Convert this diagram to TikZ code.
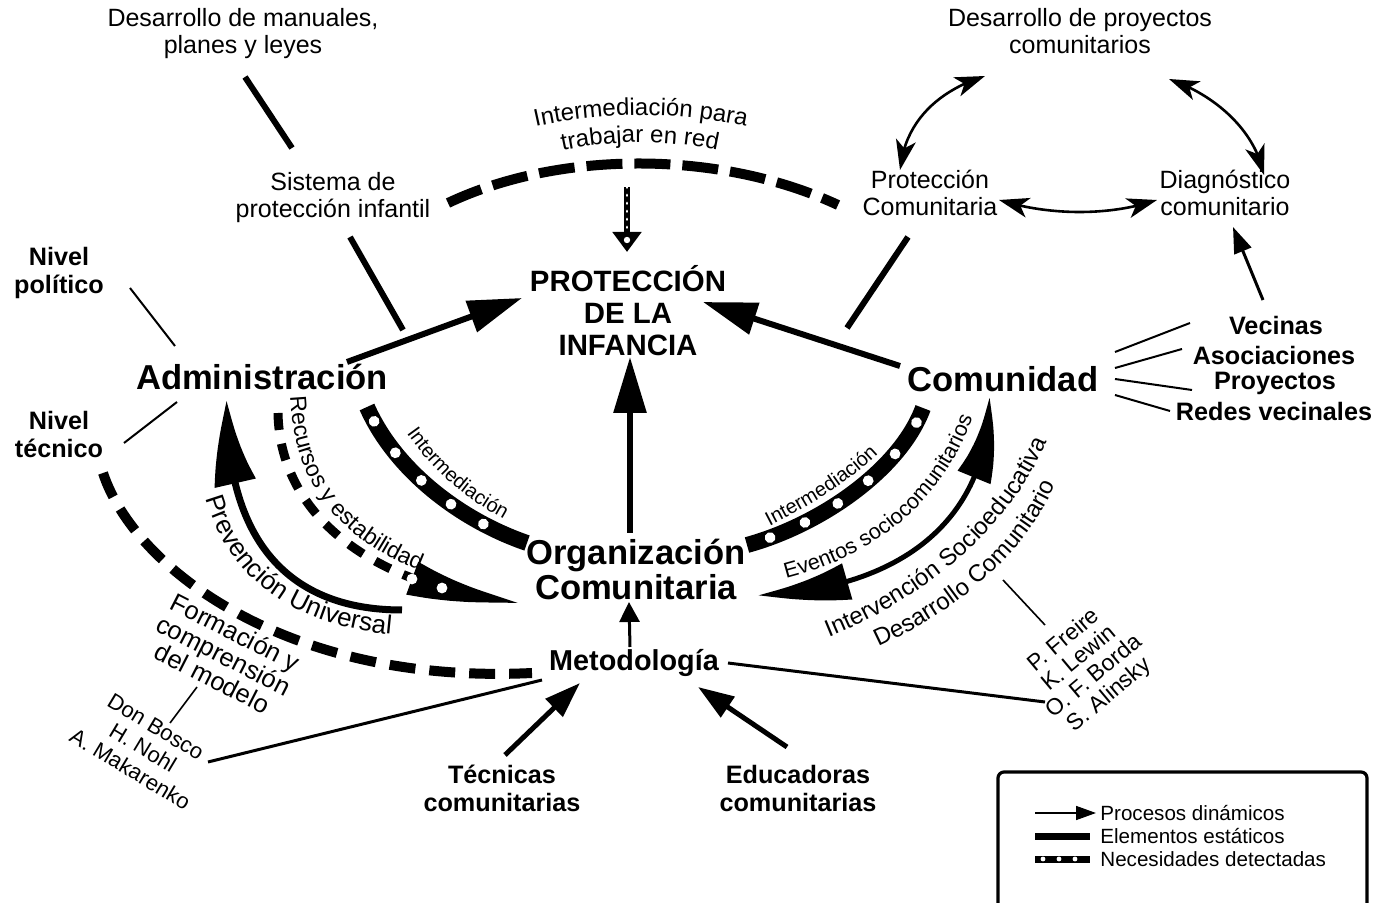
\documentclass[tikz,border=0pt]{standalone}
\usepackage{fontspec}
\setmainfont{Liberation Sans}
\usetikzlibrary{arrows.meta,bending,decorations.text,decorations.markings}

\tikzset{
    txt/.style={font=\fontsize{12.5}{13.5}\selectfont, align=center, inner sep=0pt},
    txtb/.style={font=\bfseries\fontsize{12.6}{14}\selectfont, align=center, inner sep=0pt},
    big/.style={font=\bfseries\fontsize{17.3}{17.5}\selectfont, align=center, inner sep=0pt},
    static/.style={line width=3pt},
    thinline/.style={line width=1pt},
    dyn/.style={line width=3pt, -{Triangle[length=27pt,width=16pt]}},
    dynsmall/.style={line width=2.5pt, -{Triangle[length=18pt,width=12pt]}},
    cyc/.style={line width=1.3pt, {Stealth[length=15pt,width=10pt,inset=4pt]}-{Stealth[length=15pt,width=10pt,inset=4pt]}},
    band/.style={line width=8pt, postaction={decorate, decoration={markings,
        mark=between positions 8pt and -6pt step 19pt with {\fill[white] (0,0) circle (2.7pt);}}}},
    bandsmall/.style={line width=3.5pt, postaction={decorate, decoration={markings,
        mark=between positions 4pt and -2pt step 8pt with {\fill[white] (0,0) circle (1.2pt);}}}},
    curved/.style 2 args={decorate, decoration={text along path, text align=center, text={|\fontsize{#1}{#1}\selectfont|#2}}},
}

\begin{document}
\begin{tikzpicture}[x=0.5pt, y=-0.5pt]
    \useasboundingbox (0,0) rectangle (1383,903);

    \node[txt] (manuales) at (243,34) {Desarrollo de manuales,\\planes y leyes};
    \node[txt] (proyectos) at (1080,31) {Desarrollo de proyectos\\comunitarios};
    \node[txt] (sistema) at (333,198) {Sistema de\\protección infantil};
    \node[txt] (pcom) at (930,193) {Protección\\Comunitaria};
    \node[txt] (diag) at (1225,193) {Diagnóstico\\comunitario};
    \node[font=\bfseries\fontsize{14.7}{16}\selectfont, align=center, inner sep=0pt] (prot) at (628,311) {PROTECCIÓN\\DE LA\\INFANCIA};
    \node[txtb] (npol) at (59,273) {Nivel\\político};
    \node[txtb] (ntec) at (59,434) {Nivel\\técnico};
    \node[big] (adm) at (262,377) {Administración};
    \node[big] (com) at (1003,379) {Comunidad};
    \node[big] (org) at (636,569) {Organización\\Comunitaria};
    \node[txtb, font=\bfseries\fontsize{14.4}{16}\selectfont] (met) at (634,663) {Metodología};
    \node[txtb] (tec) at (502,788) {Técnicas\\comunitarias};
    \node[txtb] (edu) at (798,788) {Educadoras\\comunitarias};
    \node[txtb] (vec) at (1276,325) {Vecinas};
    \node[txtb] (asoc) at (1274,355) {Asociaciones};
    \node[txtb] (proy) at (1275,383) {Proyectos};
    \node[txtb] (redes) at (1274,411) {Redes vecinales};
    \node[txt, font=\fontsize{12.8}{12.8}\selectfont, rotate=-27] (form) at (224,655) {Formación y\\comprensión\\del modelo};
    \node[txt, font=\fontsize{11}{12.4}\selectfont, rotate=-31] (bosco) at (143,748) {Don Bosco\\H. Nohl\\A. Makarenko};
    \node[txt, font=\fontsize{11.5}{11.8}\selectfont, rotate=40] (freire) at (1087,668) {P. Freire\\K. Lewin\\O. F. Borda\\S. Alinsky};

    \coordinate (man-s) at (245,77);   \coordinate (sis-n) at (292,148);
    \coordinate (sis-s) at (350,237);  \coordinate (adm-n) at (403,330);
    \coordinate (pc-s) at (908,237);   \coordinate (com-n) at (847,328);
    \coordinate (adm-ne) at (347,362); \coordinate (prot-w) at (522,298);
    \coordinate (com-nw) at (900,366); \coordinate (prot-e) at (703,302);
    \coordinate (org-n) at (630,533);  \coordinate (prot-s) at (630,357);
    \coordinate (met-n) at (630,647);  \coordinate (org-s) at (629,602);
    \coordinate (tec-n) at (505,755);  \coordinate (met-sw) at (580,683);
    \coordinate (edu-n) at (787,747);  \coordinate (met-se) at (698,687);
    \coordinate (vec-n) at (1263,300); \coordinate (diag-s) at (1233,227);

    \draw[static] (man-s) -- (sis-n);
    \draw[static] (sis-s) -- (adm-n);
    \draw[static] (pc-s) -- (com-n);

    \draw[dyn] (adm-ne) -- (prot-w);
    \draw[dyn] (com-nw) -- (prot-e);
    \draw[dyn, -{Triangle[length=28pt,width=16pt]}] (org-n) -- (prot-s);
    \draw[line width=1.5pt, -{Triangle[length=10pt,width=10pt]}] (met-n) -- (org-s);
    \draw[dynsmall] (tec-n) -- (met-sw);
    \draw[dynsmall] (edu-n) -- (met-se);
    \draw[line width=1.5pt, -{Triangle[length=13pt,width=9pt]}] (vec-n) -- (diag-s);

    \draw[thinline] (130,288) -- (175,346);
    \draw[thinline] (177,402) -- (124,443);
    \draw[thinline] (1115,352) -- (1190,323);
    \draw[thinline] (1115,368) -- (1182,349);
    \draw[thinline] (1115,379) -- (1192,390);
    \draw[thinline] (1115,395) -- (1170,411);
    \draw[line width=1.5pt] (728,663) -- (1045,702);
    \draw[line width=1.5pt] (542,680) -- (208,762);
    \draw[line width=0.8pt] (197,687) -- (170,723);
    \draw[line width=0.8pt] (1003,580) -- (1045,625);

    % red de proteccion
    \coordinate (sis-e) at (448,203); \coordinate (pc-w) at (838,205);
    \draw[line width=5pt, dash pattern=on 18pt off 6pt] (sis-e) .. controls (560,150) and (720,150) .. (pc-w);
    \path[curved={12}{Intermediación para}] (518,131) .. controls (594,110) and (686,110) .. (764,131);
    \path[curved={12}{trabajar en red}] (552,153) .. controls (608,139) and (672,139) .. (728,153);

    \coordinate (need-top) at (627,187); \coordinate (need-tip) at (627,252);
    \draw[line width=3pt, -{Triangle[length=10pt,width=14pt]}] (need-top) -- (need-tip);
    \draw[white, line width=1.4pt, line cap=round, dash pattern=on 0.3pt off 3.7pt] (need-top) -- (627,230);
    \fill[white] (627,240) circle (1.6pt);

    % ciclo comunitario
    \draw[cyc] (900,170) .. controls (905,120) and (940,90) .. (985,76);
    \draw[cyc] (1169,79) .. controls (1215,95) and (1255,130) .. (1264,175);
    \draw[cyc] (999,200) .. controls (1050,216) and (1110,216) .. (1157,200);

    % arcos de la izquierda
    \draw[line width=5pt, dash pattern=on 13pt off 7pt] (103,473) .. controls (135,570) and (290,685) .. (532,673);
    \draw[line width=3.5pt, -{Triangle[length=45pt,width=20pt,bend]}] (402,610) .. controls (280,610) and (225,530) .. (227,400);
    \path[curved={13}{Prevención Universal}] (200,470) .. controls (216,580) and (300,634) .. (420,636);
    \draw[line width=4.5pt, dash pattern=on 8.5pt off 7pt, -{Triangle[length=60pt,width=16pt,bend]}] (278,413) .. controls (280,520) and (380,590) .. (522,602);
    \fill[white] (412,579) circle (2.7pt) (442,588) circle (2.7pt);
    \path[curved={11.5}{Recursos y estabilidad}] (290,390) .. controls (291,482) and (340,542) .. (426,573);
    \draw[band] (367,407) .. controls (395,470) and (460,520) .. (527,543);
    \path[curved={10}{Intermediación}] (400,424) .. controls (431,470) and (461,497) .. (514,525);

    % arcos de la derecha
    \draw[band] (923,408) .. controls (900,470) and (820,525) .. (747,545);
    \path[curved={10}{Intermediación}] (760,531) .. controls (805,508) and (848,485) .. (886,446);
    \draw[line width=2.5pt, {Triangle[length=48pt,width=18pt,bend]}-{Triangle[length=44pt,width=17pt,bend]}] (758,595) .. controls (900,590) and (990,520) .. (989,397);
    \path[curved={10.8}{Eventos sociocomunitarios}] (768,583) .. controls (870,562) and (950,502) .. (978,400);
    \path[curved={12}{Intervención Socioeducativa}] (822,640) .. controls (920,602) and (1010,532) .. (1050,435);
    \path[curved={12}{Desarrollo Comunitario}] (862,654) .. controls (950,617) and (1030,557) .. (1062,468);

    % leyenda
    \draw[line width=1.6pt, rounded corners=3pt] (998,772) rectangle (1367,915);
    \node[txt, font=\fontsize{10.3}{12}\selectfont, anchor=west] (leg1) at (1100,813) {Procesos dinámicos};
    \node[txt, font=\fontsize{10.3}{12}\selectfont, anchor=west] (leg2) at (1100,836) {Elementos estáticos};
    \node[txt, font=\fontsize{10.3}{12}\selectfont, anchor=west] (leg3) at (1100,859) {Necesidades detectadas};
    \draw[line width=0.8pt, -{Triangle[length=10pt,width=7pt]}] (1035,813) -- ([xshift=-2pt]leg1.west);
    \draw[line width=3.5pt] (1035,836) -- ([xshift=-5pt]leg2.west);
    \draw[bandsmall] (1035,859) -- ([xshift=-5pt]leg3.west);
\end{tikzpicture}
\end{document}
